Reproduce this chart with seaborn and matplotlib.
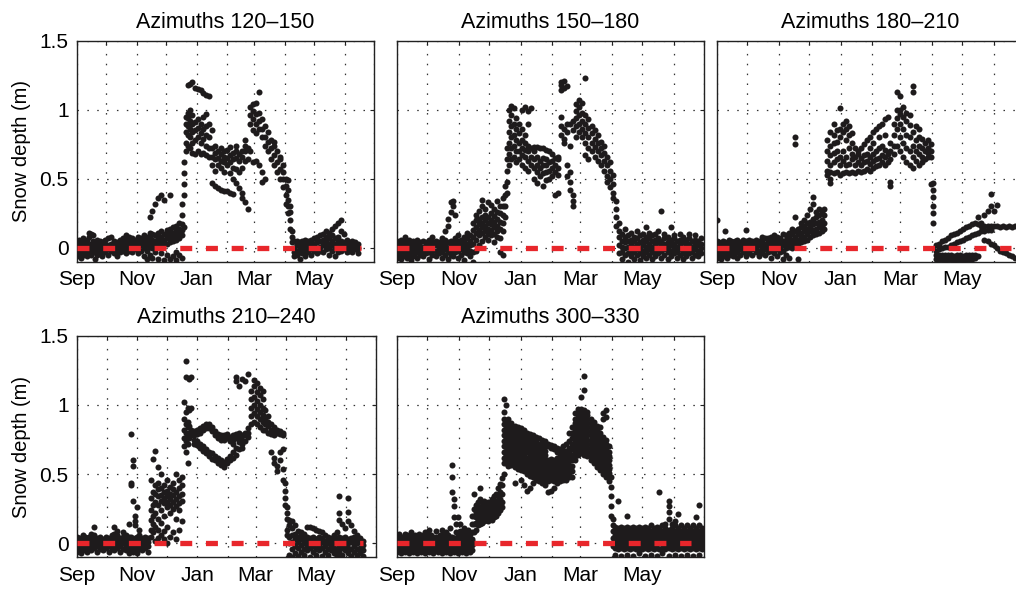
import numpy as np
import pandas as pd
import matplotlib
matplotlib.use("Agg")
import matplotlib.pyplot as plt
import seaborn as sns

# Снежный покров по секторам азимута, день от 1 сентября -> глубина (м)
TITLES = ["Azimuths 120–150", "Azimuths 150–180", "Azimuths 180–210",
          "Azimuths 210–240", "Azimuths 300–330"]

MONTH_DAYS = [0, 30, 61, 91, 122, 153, 181, 212, 242, 273, 303]
MONTH_LABELS = ["Sep", "", "Nov", "", "Jan", "", "Mar", "", "May", "", ""]
DEPTH_TICKS = [0, 0.5, 1, 1.5]
DEPTH_LABELS = ["0", "0.5", "1", "1.5"]
ZERO_LINE_DAYS = [0, 290]
X_END = [291, 302.6, 302.6, 294, 302.6]

p1_columns = [
    (0, [-0.06, -0.03, 0.0, 0.02, 0.05]), (2, [-0.04, -0.01, 0.01, 0.04, 0.06]),
    (4, [-0.07, -0.02, 0.0, 0.03]), (6, [-0.05, -0.02, 0.01, 0.04, 0.07]),
    (8, [-0.03, 0.0, 0.02, 0.05]), (10, [-0.06, -0.02, 0.01, 0.03, 0.06]),
    (12, [-0.04, -0.01, 0.02, 0.08, 0.11]), (14, [-0.05, -0.02, 0.0, 0.03, 0.1]),
    (16, [-0.03, 0.0, 0.02, 0.05, 0.09]), (18, [-0.08, -0.03, 0.01, 0.04]),
    (20, [-0.05, -0.01, 0.02, 0.06]), (23, [-0.04, -0.01, 0.03, 0.05]),
    (26, [-0.06, -0.02, 0.0, 0.04]), (29, [-0.03, 0.01, 0.03, 0.06]),
    (32, [-0.05, -0.01, 0.02, 0.07]), (35, [-0.02, 0.0, 0.03, 0.08]),
    (38, [-0.04, 0.0, 0.02, 0.05]), (41, [-0.06, -0.02, 0.01, 0.04]),
    (44, [-0.03, 0.0, 0.03, 0.06]), (47, [-0.02, 0.01, 0.04, 0.07]),
    (50, [-0.04, 0.0, 0.03, 0.06, 0.09]), (53, [-0.02, 0.01, 0.04, 0.08]),
    (56, [-0.03, 0.02, 0.05, 0.07]), (59, [-0.01, 0.02, 0.04, 0.06]),
    (62, [-0.04, 0.0, 0.03, 0.05, 0.08]), (65, [-0.02, 0.02, 0.04, 0.07]),
    (68, [-0.06, 0.0, 0.03, 0.06, 0.09]), (71, [-0.08, -0.02, 0.02, 0.05, 0.08]),
    (74, [-0.05, 0.01, 0.04, 0.08, 0.11, 0.22]), (77, [-0.07, 0.0, 0.03, 0.06, 0.1, 0.27]),
    (80, [-0.03, 0.02, 0.05, 0.09, 0.32]), (83, [-0.08, 0.01, 0.04, 0.07, 0.11, 0.36]),
    (86, [-0.04, 0.02, 0.05, 0.08, 0.12, 0.38]), (89, [-0.09, 0.03, 0.06, 0.1, 0.35]),
    (92, [-0.05, 0.03, 0.07, 0.1, 0.13]), (95, [-0.08, 0.04, 0.07, 0.11, 0.14, 0.38]),
    (98, [-0.06, 0.05, 0.08, 0.11, 0.15]), (101, [-0.09, -0.03, 0.06, 0.09, 0.13, 0.16]),
    (104, [-0.05, 0.07, 0.1, 0.14, 0.18]), (107, [-0.07, 0.09, 0.13, 0.17, 0.24, 0.32]),
    (109, [0.15, 0.38, 0.46, 0.54, 0.62]), (111, [0.7, 0.76, 0.84, 0.9, 0.95]),
    (113, [0.74, 0.82, 0.88, 0.94, 0.98, 1.18]), (115, [0.72, 0.8, 0.86, 0.92, 1.0, 1.19]),
    (117, [0.69, 0.76, 0.84, 0.9, 0.96, 1.2]), (120, [0.68, 0.78, 0.85, 0.91, 1.16]),
    (123, [0.7, 0.8, 0.87, 0.93, 1.15]), (126, [0.68, 0.76, 0.83, 0.9, 1.14]),
    (129, [0.69, 0.79, 0.86, 0.95, 1.12]), (132, [0.67, 0.74, 0.82, 0.88, 0.97, 1.11]),
    (135, [0.66, 0.72, 0.8, 0.9, 1.1]), (138, [0.47, 0.6, 0.66, 0.72, 0.85]),
    (141, [0.45, 0.56, 0.64, 0.69, 0.74]), (144, [0.43, 0.6, 0.65, 0.7]),
    (147, [0.42, 0.58, 0.63, 0.68, 0.72]), (150, [0.41, 0.55, 0.62, 0.66, 0.7]),
    (153, [0.41, 0.6, 0.65, 0.71]), (156, [0.4, 0.54, 0.62, 0.67, 0.73]),
    (159, [0.39, 0.5, 0.58, 0.64, 0.69]), (162, [0.47, 0.57, 0.65, 0.7, 0.74]),
    (165, [0.43, 0.55, 0.63, 0.68]), (168, [0.4, 0.36, 0.58, 0.66, 0.7]),
    (171, [0.33, 0.63, 0.7, 0.74, 0.78]), (174, [0.28, 0.64, 0.72]),
    (177, [0.9, 0.96, 1.02, 0.7]), (180, [0.85, 0.93, 0.99, 1.04, 0.62]),
    (183, [0.83, 0.9, 0.97, 1.05, 0.63]), (186, [0.86, 0.92, 0.98, 1.13, 0.6]),
    (189, [0.8, 0.86, 0.93, 0.55, 0.48]), (192, [0.74, 0.8, 0.88, 0.5]),
    (195, [0.7, 0.77, 0.84]), (198, [0.64, 0.72, 0.78]),
    (201, [0.6, 0.67, 0.74, 0.77]), (204, [0.55, 0.62, 0.7]),
    (207, [0.5, 0.57, 0.64, 0.66]), (210, [0.44, 0.5, 0.55, 0.6]),
    (213, [0.32, 0.38, 0.45, 0.5]), (215, [0.25, 0.3, 0.35, 0.42, 0.49]),
    (217, [0.14, 0.2, 0.26, 0.3]), (219, [0.08, 0.12, 0.04]),
    (221, [-0.03, 0.0, 0.05, -0.06]), (224, [-0.05, -0.02, 0.02, 0.05]),
    (227, [-0.08, -0.03, 0.0, 0.04]), (230, [-0.04, -0.01, 0.02, 0.05]),
    (233, [-0.06, -0.02, 0.01, 0.03, 0.06]), (236, [-0.03, 0.0, 0.03, 0.05]),
    (239, [-0.05, -0.01, 0.02, 0.06]), (242, [-0.02, 0.01, 0.03, 0.07]),
    (245, [-0.04, 0.0, 0.04, 0.08]), (248, [-0.02, 0.01, 0.05, 0.09]),
    (251, [-0.03, 0.02, 0.06, 0.1]), (254, [-0.01, 0.02, 0.05, 0.08, 0.12]),
    (257, [-0.05, 0.0, 0.03, 0.07, 0.11]), (260, [-0.02, 0.02, 0.05, 0.09, 0.14]),
    (263, [-0.06, 0.0, 0.03, 0.07, 0.16]), (266, [-0.03, 0.01, 0.04, 0.08, 0.18]),
    (269, [-0.02, 0.02, 0.05, 0.12, 0.2]), (272, [-0.01, 0.02, 0.04, 0.1]),
    (275, [-0.03, 0.0, 0.03, 0.06]), (278, [-0.02, 0.01, 0.04]),
    (281, [-0.03, 0.0, 0.02, 0.05]), (284, [-0.01, 0.02, 0.04]),
    (287, [-0.04, 0.0, 0.03]),
]

p2_columns = [
    (0, [-0.07, -0.04, -0.01, 0.02, 0.05]), (2, [-0.05, -0.02, 0.01, 0.04]),
    (4, [-0.08, -0.03, 0.0, 0.03, 0.06]), (6, [-0.06, -0.02, 0.01, 0.04]),
    (8, [-0.04, -0.01, 0.02, 0.05, 0.08]), (10, [-0.07, -0.03, 0.0, 0.03]),
    (12, [-0.05, -0.02, 0.01, 0.04, 0.06]), (14, [-0.09, -0.04, 0.0, 0.03]),
    (16, [-0.06, -0.02, 0.02, 0.05]), (18, [-0.04, -0.01, 0.02, 0.04]),
    (20, [-0.07, -0.03, 0.0, 0.03, 0.06]), (23, [-0.05, -0.02, 0.01, 0.04]),
    (26, [-0.06, -0.03, 0.01, 0.05]), (29, [-0.04, -0.01, 0.02, 0.04]),
    (32, [-0.08, -0.03, 0.0, 0.03, 0.06]), (35, [-0.05, -0.02, 0.01, 0.04, 0.08]),
    (38, [-0.06, -0.02, 0.02, 0.05]), (41, [-0.04, -0.01, 0.02, 0.04]),
    (44, [-0.07, -0.03, 0.01, 0.04, 0.07]), (47, [-0.05, -0.01, 0.02, 0.06, 0.12]),
    (50, [-0.08, -0.03, 0.0, 0.04, 0.16, 0.21]), (53, [-0.05, -0.02, 0.02, 0.05, 0.26, 0.33]),
    (55, [-0.06, 0.0, 0.03, 0.3, 0.34]), (57, [-0.03, 0.01, 0.04, 0.07, 0.24]),
    (60, [-0.07, -0.02, 0.02, 0.05, 0.09]), (63, [-0.05, -0.01, 0.03, 0.06]),
    (66, [-0.09, -0.03, 0.01, 0.04, 0.08]), (69, [-0.04, 0.0, 0.03, 0.07, 0.11]),
    (72, [-0.06, -0.02, 0.02, 0.05, 0.09]), (75, [-0.1, -0.03, 0.03, 0.08, 0.13, 0.18]),
    (78, [-0.02, 0.06, 0.11, 0.15, 0.2, 0.24]), (81, [0.02, 0.09, 0.13, 0.17, 0.21, 0.27]),
    (84, [0.05, 0.11, 0.15, 0.18, 0.22, 0.3, 0.35]), (87, [0.08, 0.12, 0.16, 0.2, 0.24, 0.28]),
    (90, [0.06, 0.1, 0.14, 0.18, 0.22, 0.33]), (93, [0.09, 0.13, 0.17, 0.2, 0.25, 0.31]),
    (96, [0.04, 0.1, 0.15, 0.19, 0.23, 0.28]), (99, [0.08, 0.12, 0.16, 0.21, 0.26, 0.34]),
    (102, [-0.03, 0.07, 0.14, 0.19, 0.25, 0.3]), (105, [-0.05, 0.12, 0.18, 0.24, 0.3, 0.36]),
    (107, [0.22, 0.3, 0.38, 0.45]), (109, [0.4, 0.48, 0.56, 0.64, 0.72]),
    (111, [0.6, 0.68, 0.76, 0.84, 0.92, 1.0]), (113, [0.64, 0.72, 0.8, 0.88, 0.96, 1.03]),
    (115, [0.66, 0.74, 0.82, 0.9, 1.01]), (117, [0.62, 0.7, 0.78, 0.86, 0.94]),
    (120, [0.64, 0.7, 0.76, 0.83, 0.9]), (123, [0.6, 0.67, 0.72, 0.78, 0.86, 1.0]),
    (126, [0.58, 0.66, 0.71, 0.76, 0.82, 1.02]), (129, [0.56, 0.63, 0.7, 0.74, 0.99, 0.9]),
    (132, [0.6, 0.66, 0.72, 1.01]), (135, [0.5, 0.58, 0.64, 0.7, 0.73]),
    (138, [0.47, 0.55, 0.6, 0.66, 0.73]), (141, [0.52, 0.58, 0.63, 0.72]),
    (144, [0.45, 0.54, 0.6, 0.65, 0.72]), (147, [0.49, 0.55, 0.6, 0.64, 0.71]),
    (150, [0.5, 0.56, 0.62, 0.7]), (153, [0.52, 0.58, 0.63, 0.68]),
    (156, [0.38, 0.55, 0.6, 0.65]), (159, [0.4, 0.53, 0.58, 0.64, 0.66]),
    (162, [0.82, 0.88, 0.95, 1.14, 1.18, 1.2]), (165, [0.79, 0.86, 1.16, 1.21, 0.76]),
    (168, [0.84, 0.9, 1.17, 0.6, 0.52]), (171, [0.55, 0.48, 0.42, 0.9, 0.74]),
    (174, [0.3, 0.34, 0.38, 0.85, 0.92]), (177, [0.88, 0.94, 0.99, 1.04, 0.8]),
    (180, [0.84, 0.9, 0.96, 1.02, 1.07]), (183, [0.8, 0.86, 0.92, 0.98, 1.05]),
    (186, [0.76, 0.83, 0.9, 0.96, 1.23, 0.67]), (189, [0.72, 0.8, 0.87, 0.93, 0.64]),
    (192, [0.7, 0.76, 0.83, 0.88]), (195, [0.66, 0.73, 0.79, 0.85]),
    (198, [0.63, 0.7, 0.76, 0.82]), (201, [0.6, 0.67, 0.72, 0.77]),
    (204, [0.56, 0.63, 0.69, 0.74]), (207, [0.52, 0.6, 0.66, 0.48]),
    (210, [0.5, 0.56, 0.62, 0.44]), (213, [0.4, 0.46, 0.53, 0.36]),
    (216, [0.28, 0.34, 0.22, 0.16]), (219, [0.12, 0.18, 0.08, 0.02, -0.04]),
    (222, [-0.08, -0.03, 0.01, 0.05, 0.1]), (225, [-0.05, 0.0, 0.04, 0.08, 0.14]),
    (228, [-0.1, -0.04, 0.01, 0.05, 0.09]), (231, [-0.06, -0.02, 0.02, 0.06, 0.11]),
    (234, [-0.08, -0.03, 0.01, 0.05, 0.08]), (237, [-0.05, -0.01, 0.03, 0.07, 0.12]),
    (240, [-0.09, -0.04, 0.0, 0.04, 0.09]), (243, [-0.06, -0.02, 0.02, 0.06, 0.1]),
    (246, [-0.07, -0.03, 0.01, 0.05, 0.08, 0.15]), (249, [-0.05, -0.01, 0.03, 0.07, 0.11]),
    (252, [-0.08, -0.03, 0.01, 0.05, 0.09]), (255, [-0.06, -0.02, 0.02, 0.06, 0.1]),
    (258, [-0.04, 0.0, 0.04, 0.07, 0.12]), (261, [-0.07, -0.02, 0.02, 0.05, 0.27]),
    (264, [-0.05, -0.01, 0.03, 0.07, 0.1]), (267, [-0.08, -0.03, 0.01, 0.04, 0.08]),
    (270, [-0.06, -0.02, 0.02, 0.06, 0.15]), (273, [-0.04, 0.0, 0.03, 0.07, 0.09]),
    (276, [-0.07, -0.03, 0.01, 0.05]), (279, [-0.05, -0.01, 0.03, 0.06, 0.1]),
    (282, [-0.08, -0.04, 0.0, 0.04, 0.08]), (285, [-0.06, -0.02, 0.02, 0.06]),
    (288, [-0.04, 0.0, 0.03, 0.07, 0.1]), (291, [-0.07, -0.03, 0.01, 0.05]),
    (294, [-0.05, -0.01, 0.02, 0.06, 0.09]), (297, [-0.06, -0.02, 0.02, 0.05]),
    (300, [-0.04, 0.0, 0.03, 0.07]),
]

p3_columns = [
    (0, [-0.07, -0.04, -0.01, 0.02, 0.05, 0.2]), (2, [-0.05, -0.02, 0.01, 0.04]),
    (4, [-0.08, -0.03, 0.0, 0.03]), (6, [-0.06, -0.02, 0.01, 0.05]),
    (8, [-0.04, -0.01, 0.02, 0.04, 0.12]), (10, [-0.07, -0.03, 0.0, 0.03]),
    (12, [-0.05, -0.02, 0.01, 0.04, 0.06]), (14, [-0.03, 0.0, 0.03, 0.05]),
    (16, [-0.06, -0.02, 0.01, 0.04]), (18, [-0.04, -0.01, 0.02, 0.05]),
    (20, [-0.07, -0.03, 0.0, 0.03, 0.06]), (23, [-0.05, -0.01, 0.02, 0.04]),
    (26, [-0.03, 0.0, 0.03, 0.06]), (29, [-0.06, -0.02, 0.02, 0.05, 0.13]),
    (32, [-0.04, 0.0, 0.03, 0.06]), (35, [-0.05, -0.01, 0.02, 0.05]),
    (38, [-0.03, 0.01, 0.03, 0.06]), (41, [-0.06, -0.02, 0.02, 0.05]),
    (44, [-0.04, 0.0, 0.03, 0.06, 0.08]), (47, [-0.05, -0.01, 0.03, 0.07]),
    (50, [-0.03, 0.01, 0.04, 0.07]), (53, [-0.07, -0.02, 0.02, 0.05, 0.08]),
    (56, [-0.04, 0.0, 0.03, 0.06, 0.09]), (59, [-0.06, -0.01, 0.02, 0.05, 0.08]),
    (62, [-0.03, 0.01, 0.04, 0.07]), (65, [-0.08, -0.02, 0.02, 0.05, 0.1]),
    (68, [-0.05, 0.0, 0.03, 0.06, 0.09]), (71, [-0.07, 0.01, 0.04, 0.07, 0.11]),
    (74, [0.0, 0.03, 0.06, 0.1, 0.14]), (77, [0.02, 0.05, 0.08, 0.12, 0.22, 0.8, 0.75]),
    (80, [-0.08, 0.03, 0.06, 0.1, 0.14]), (83, [0.04, 0.07, 0.11, 0.15, 0.18]),
    (86, [0.05, 0.08, 0.12, 0.16, 0.2]), (89, [0.06, 0.1, 0.14, 0.18, 0.24]),
    (92, [0.08, 0.12, 0.15, 0.19, 0.28]), (95, [0.09, 0.13, 0.17, 0.21, 0.32, 0.37]),
    (98, [0.1, 0.14, 0.18, 0.22, 0.26]), (101, [0.11, 0.15, 0.19, 0.24, 0.28]),
    (104, [0.12, 0.16, 0.2, 0.25]), (106, [0.14, 0.18, 0.24, 0.28]),
    (109, [0.53, 0.56, 0.63, 0.7, 0.78]), (112, [0.47, 0.5, 0.55, 0.6, 0.67, 0.74, 0.84]),
    (115, [0.54, 0.62, 0.69, 0.76, 0.82, 0.9]), (118, [0.55, 0.64, 0.7, 0.77, 0.85]),
    (121, [0.53, 0.6, 0.66, 0.8, 0.86, 1.01]), (124, [0.54, 0.63, 0.7, 0.84, 0.9]),
    (127, [0.55, 0.6, 0.66, 0.78, 0.86, 0.92]), (130, [0.54, 0.61, 0.72, 0.82, 0.88]),
    (133, [0.55, 0.64, 0.68, 0.76, 0.83]), (136, [0.54, 0.6, 0.66, 0.72]),
    (139, [0.56, 0.62, 0.68, 0.7]), (142, [0.55, 0.6, 0.65, 0.72]),
    (145, [0.56, 0.62, 0.67, 0.75]), (148, [0.57, 0.63, 0.68, 0.78]),
    (151, [0.56, 0.61, 0.66, 0.72, 0.8]), (154, [0.58, 0.63, 0.68, 0.76, 0.84]),
    (157, [0.59, 0.64, 0.7, 0.86]), (160, [0.6, 0.65, 0.72, 0.8, 0.88]),
    (163, [0.62, 0.67, 0.74, 0.9]), (166, [0.6, 0.66, 0.71, 0.82, 0.93]),
    (169, [0.62, 0.68, 0.95]), (171, [0.45, 0.48, 0.64, 0.7, 0.76]),
    (175, [0.68, 0.74, 0.82, 0.9]), (178, [0.74, 0.86, 0.94, 1.0, 1.13]),
    (181, [0.7, 0.8, 0.9, 0.97, 1.0, 1.1]), (184, [0.66, 0.76, 0.86, 0.95, 1.02]),
    (187, [0.62, 0.72, 0.82, 0.92, 0.98]), (190, [0.6, 0.7, 0.8, 0.89, 0.96]),
    (193, [0.58, 0.66, 0.74, 0.84, 1.17, 1.13]), (196, [0.63, 0.7, 0.78, 0.88]),
    (199, [0.6, 0.68, 0.74, 0.8, 0.86]), (202, [0.62, 0.66, 0.72, 0.79]),
    (205, [0.64, 0.7, 0.76]), (208, [0.66, 0.72, 0.78, 0.69]),
    (211, [0.66, 0.7, 0.75, 0.46]), (213, [0.47, 0.42, 0.37, 0.3, 0.25, 0.18]),
    (216, [-0.08, -0.05, -0.02, 0.02]), (219, [-0.08, -0.05, -0.01, 0.03]),
    (222, [-0.08, -0.05, 0.0, 0.05]), (225, [-0.09, -0.05, 0.01, 0.06]),
    (228, [-0.08, -0.05, 0.01, 0.07]), (231, [-0.08, -0.05, 0.02, 0.09]),
    (234, [-0.09, -0.06, 0.03, 0.1]), (237, [-0.08, -0.05, 0.04, 0.11]),
    (240, [-0.08, -0.05, 0.05, 0.12]), (243, [-0.09, -0.06, 0.06, 0.14]),
    (246, [-0.08, -0.05, 0.07, 0.15]), (249, [-0.08, -0.05, 0.08, 0.16]),
    (252, [-0.08, -0.05, 0.09, 0.17]), (255, [-0.07, -0.05, 0.1, 0.18]),
    (258, [-0.06, 0.11, 0.17, 0.22]), (261, [0.12, 0.18, 0.16]),
    (264, [0.12, 0.16, 0.06, 0.24]), (267, [0.13, 0.16, 0.05, 0.27]),
    (270, [0.13, 0.16, 0.03, 0.39, 0.3]), (273, [0.16, 0.02, 0.27]),
    (276, [0.16, 0.0, 0.31]), (279, [0.15, -0.02]), (282, [0.16, -0.03]),
    (285, [0.15, -0.04]), (288, [0.16, -0.05]), (291, [0.15, -0.06]),
    (294, [0.16, -0.07]), (297, [0.15, -0.08]), (300, [0.16, -0.09]),
]

p4_columns = [
    (0, [-0.06, -0.03, 0.0, 0.03, 0.05]), (2, [-0.04, -0.01, 0.02, 0.04]),
    (4, [-0.07, -0.02, 0.01, 0.04]), (6, [-0.05, -0.02, 0.01, 0.03, 0.06]),
    (8, [-0.03, 0.0, 0.02, 0.05]), (10, [-0.06, -0.02, 0.01, 0.04]),
    (12, [-0.04, -0.01, 0.02, 0.05]), (14, [-0.05, -0.02, 0.01, 0.04, 0.07]),
    (17, [-0.03, 0.0, 0.03, 0.06, 0.12]), (20, [-0.06, -0.02, 0.01, 0.04]),
    (23, [-0.04, -0.01, 0.02, 0.05]), (26, [-0.05, -0.02, 0.01, 0.03]),
    (29, [-0.03, 0.0, 0.02, 0.05]), (32, [-0.06, -0.02, 0.01, 0.04]),
    (35, [-0.04, -0.01, 0.02, 0.06]), (38, [-0.05, -0.01, 0.03, 0.07, 0.12]),
    (41, [-0.03, 0.0, 0.03, 0.06, 0.09]), (44, [-0.06, -0.02, 0.01, 0.04]),
    (47, [-0.04, 0.0, 0.02, 0.05, 0.08]), (50, [-0.05, -0.02, 0.01, 0.04, 0.06]),
    (53, [-0.07, -0.03, 0.0, 0.03, 0.05, 0.14]), (55, [-0.04, 0.02, 0.05, 0.42, 0.44, 0.79]),
    (57, [-0.06, -0.01, 0.03, 0.31, 0.56, 0.6]), (59, [-0.03, 0.01, 0.04, 0.13, 0.16, 0.2]),
    (61, [-0.07, -0.02, 0.02, 0.05, 0.26]), (63, [-0.04, 0.0, 0.03, 0.06, 0.1]),
    (66, [-0.05, -0.01, 0.02, 0.04]), (69, [-0.03, 0.0, 0.03, 0.05]),
    (72, [-0.06, -0.02, 0.01, 0.04]), (75, [0.05, 0.1, 0.17, 0.24, 0.33, 0.46]),
    (77, [0.08, 0.14, 0.2, 0.28, 0.37, 0.61]), (79, [0.02, 0.12, 0.22, 0.3, 0.36, 0.42, 0.67]),
    (82, [0.04, 0.1, 0.18, 0.28, 0.34, 0.39, 0.44, 0.55]),
    (85, [0.06, 0.15, 0.24, 0.31, 0.35, 0.4, 0.5]),
    (88, [0.03, 0.09, 0.2, 0.29, 0.33, 0.37, 0.42]),
    (91, [0.0, 0.12, 0.26, 0.3, 0.34, 0.38, 0.46]),
    (94, [0.05, 0.22, 0.28, 0.32, 0.36, 0.41]), (97, [0.08, 0.25, 0.3, 0.35, 0.39, 0.44]),
    (100, [0.03, 0.18, 0.27, 0.32, 0.37, 0.5]), (103, [0.1, 0.24, 0.29, 0.34, 0.4, 0.46]),
    (106, [0.16, 0.31, 0.36, 0.42, 0.48]), (108, [0.7, 0.76, 0.82, 0.9, 1.02]),
    (110, [0.66, 0.74, 0.8, 0.86, 0.95, 1.2, 1.32]), (112, [0.72, 0.78, 0.84, 0.88, 0.98, 0.58]),
    (114, [0.76, 0.8, 0.85, 1.19, 0.96]), (116, [0.78, 0.82, 0.98, 1.2]),
    (119, [0.81, 0.78, 0.75, 0.72]), (122, [0.82, 0.79, 0.74, 0.71]),
    (125, [0.83, 0.8, 0.72, 0.69]), (128, [0.85, 0.82, 0.7, 0.67]),
    (131, [0.86, 0.83, 0.68, 0.65]), (134, [0.86, 0.83, 0.66, 0.63]),
    (137, [0.84, 0.81, 0.65, 0.61]), (140, [0.81, 0.78, 0.63, 0.6]),
    (143, [0.79, 0.76, 0.62, 0.58]), (146, [0.78, 0.75, 0.6, 0.57]),
    (149, [0.78, 0.75, 0.59, 0.55]), (152, [0.79, 0.76, 0.61, 0.58]),
    (155, [0.77, 0.74, 0.6, 0.63]), (158, [0.78, 0.75, 0.62, 0.66, 0.72]),
    (161, [0.79, 0.76, 0.64, 0.69, 1.2, 1.17]), (164, [0.8, 0.77, 0.68, 0.73, 1.14]),
    (167, [0.78, 0.75, 0.69, 0.72, 1.19]), (170, [0.8, 0.78, 0.74, 1.17]),
    (173, [0.83, 0.8, 0.77, 1.22]), (176, [0.86, 0.92, 0.98, 1.04, 1.1]),
    (179, [0.88, 0.94, 1.0, 1.06, 1.14, 1.18]), (182, [0.86, 0.92, 0.97, 1.03, 1.09, 1.16]),
    (185, [0.84, 0.9, 0.95, 1.0, 1.07, 1.12]), (188, [0.82, 0.88, 0.93, 0.98, 1.04, 1.1]),
    (191, [0.82, 0.86, 0.9, 0.96]), (194, [0.8, 0.85, 0.88, 0.92]),
    (197, [0.79, 0.82, 0.86, 0.66]), (200, [0.78, 0.82, 0.84, 0.62, 0.58]),
    (203, [0.8, 0.82, 0.81, 0.56, 0.52]), (206, [0.79, 0.81, 0.66, 0.6]),
    (209, [0.78, 0.8, 0.68, 0.54, 0.46]), (211, [0.44, 0.38, 0.33, 0.28]),
    (213, [0.26, 0.22, 0.18, 0.1, 0.06]), (215, [-0.08, 0.0, 0.05, 0.13, 0.17]),
    (218, [-0.1, -0.04, 0.01, 0.06, 0.11, 0.16]), (221, [-0.07, -0.02, 0.03, 0.07, 0.13]),
    (224, [-0.09, -0.03, 0.01, 0.05, 0.09]), (227, [-0.06, -0.01, 0.03, 0.06, 0.08]),
    (230, [-0.08, -0.04, 0.0, 0.04, 0.07]), (233, [-0.05, -0.01, 0.02, 0.05, 0.12]),
    (236, [-0.1, -0.03, 0.01, 0.04, 0.12]), (239, [-0.06, -0.02, 0.02, 0.05, 0.11]),
    (242, [-0.08, -0.04, 0.0, 0.03, 0.1]), (245, [-0.05, -0.01, 0.02, 0.05, 0.09]),
    (248, [-0.09, -0.03, 0.01, 0.04, 0.08]), (251, [-0.06, -0.02, 0.02, 0.06]),
    (254, [-0.08, -0.04, 0.0, 0.03, 0.05]), (257, [-0.05, -0.01, 0.02, 0.04]),
    (260, [-0.07, -0.03, 0.0, 0.03, 0.06]), (263, [-0.09, -0.04, 0.01, 0.04, 0.08]),
    (266, [-0.06, -0.02, 0.02, 0.05, 0.17, 0.22, 0.34]), (269, [-0.08, -0.03, 0.01, 0.04, 0.14]),
    (272, [-0.05, -0.01, 0.02, 0.05, 0.11]), (275, [-0.07, -0.03, 0.0, 0.03, 0.16, 0.23, 0.33]),
    (278, [-0.09, -0.04, 0.01, 0.04, 0.13]), (281, [-0.06, -0.02, 0.02, 0.05, 0.09]),
    (284, [-0.08, -0.04, 0.0, 0.03, 0.06]), (287, [-0.07, -0.03, 0.01, 0.04]),
    (290, [-0.09, -0.05, -0.01, 0.02]),
]

p5_columns = [
    (0, [-0.06, -0.03, 0.0, 0.03, 0.06]), (2, [-0.05, -0.02, 0.01, 0.04, 0.07]),
    (4, [-0.07, -0.03, 0.0, 0.03, 0.05]), (6, [-0.04, -0.01, 0.02, 0.05]),
    (8, [-0.06, -0.02, 0.01, 0.04, 0.07]), (10, [-0.05, -0.02, 0.01, 0.03, 0.06]),
    (12, [-0.07, -0.03, 0.0, 0.03, 0.05]), (14, [-0.04, -0.01, 0.02, 0.05, 0.08]),
    (16, [-0.06, -0.02, 0.01, 0.04]), (18, [-0.05, -0.02, 0.01, 0.03, 0.06]),
    (20, [-0.07, -0.03, 0.0, 0.03, 0.05]), (22, [-0.04, -0.01, 0.02, 0.05, 0.07]),
    (24, [-0.06, -0.02, 0.01, 0.04]), (26, [-0.05, -0.02, 0.01, 0.03, 0.06]),
    (28, [-0.07, -0.03, 0.0, 0.03, 0.08]), (30, [-0.04, -0.01, 0.02, 0.05, 0.07]),
    (32, [-0.06, -0.02, 0.01, 0.04, 0.1]), (34, [-0.05, -0.02, 0.01, 0.03, 0.06]),
    (36, [-0.07, -0.03, 0.0, 0.03, 0.05]), (38, [-0.04, -0.01, 0.02, 0.05, 0.09]),
    (40, [-0.06, -0.02, 0.01, 0.04]), (42, [-0.05, -0.02, 0.01, 0.03, 0.06]),
    (44, [-0.07, -0.03, 0.0, 0.03, 0.05, 0.1]), (46, [-0.04, -0.01, 0.02, 0.05, 0.07]),
    (48, [-0.06, -0.02, 0.01, 0.04, 0.08]), (50, [-0.05, -0.02, 0.01, 0.03, 0.06]),
    (52, [-0.07, -0.03, 0.0, 0.03, 0.05, 0.11]), (54, [-0.04, -0.01, 0.02, 0.05, 0.37, 0.48, 0.57]),
    (56, [-0.06, -0.02, 0.01, 0.04, 0.19, 0.27, 0.32]), (58, [-0.05, -0.02, 0.01, 0.03, 0.08, 0.14]),
    (60, [-0.07, -0.03, 0.0, 0.03, 0.06, 0.19]), (62, [-0.04, -0.01, 0.02, 0.05, 0.09, 0.14]),
    (64, [-0.06, -0.02, 0.01, 0.04, 0.07]), (66, [-0.05, -0.02, 0.01, 0.04, 0.08, 0.11]),
    (68, [-0.07, -0.03, 0.0, 0.03, 0.06]), (70, [-0.04, -0.01, 0.02, 0.05, 0.1]),
    (72, [-0.06, -0.02, 0.01, 0.04, 0.07]), (74, [-0.05, -0.01, 0.03, 0.08, 0.14, 0.2]),
    (76, [0.0, 0.08, 0.14, 0.2, 0.25, 0.36]), (78, [0.1, 0.15, 0.19, 0.23, 0.28]),
    (80, [0.13, 0.17, 0.21, 0.25, 0.3]), (82, [0.14, 0.18, 0.22, 0.26, 0.32, 0.4]),
    (84, [0.15, 0.19, 0.23, 0.27, 0.3]), (86, [0.16, 0.2, 0.24, 0.27, 0.31]),
    (88, [0.17, 0.21, 0.25, 0.28]), (90, [0.16, 0.2, 0.24, 0.27, 0.3]),
    (92, [0.18, 0.22, 0.25, 0.29]), (94, [0.17, 0.21, 0.25, 0.28, 0.32]),
    (96, [0.19, 0.23, 0.26, 0.3, 0.34]), (98, [0.2, 0.24, 0.28, 0.31, 0.36]),
    (100, [0.22, 0.26, 0.3, 0.34, 0.4]), (102, [0.24, 0.28, 0.32, 0.37, 0.43]),
    (104, [0.26, 0.3, 0.36, 0.42, 0.47]),
    (106, [0.5, 0.58, 0.62, 0.66, 0.7, 0.74, 0.78, 0.82, 0.86, 0.9, 0.95, 1.04]),
    (108, [0.58, 0.61, 0.64, 0.67, 0.7, 0.73, 0.76, 0.79, 0.82, 0.85, 0.88, 1.0]),
    (110, [0.56, 0.59, 0.62, 0.65, 0.68, 0.71, 0.74, 0.77, 0.8, 0.83, 0.86, 0.9]),
    (113, [0.57, 0.6, 0.63, 0.66, 0.69, 0.72, 0.75, 0.78, 0.81, 0.84, 0.87]),
    (116, [0.44, 0.55, 0.58, 0.61, 0.64, 0.67, 0.7, 0.73, 0.76, 0.79, 0.82, 0.85]),
    (119, [0.54, 0.57, 0.6, 0.63, 0.66, 0.69, 0.72, 0.75, 0.78, 0.81, 0.84]),
    (122, [0.46, 0.53, 0.56, 0.59, 0.62, 0.65, 0.68, 0.71, 0.74, 0.77, 0.8, 0.83]),
    (125, [0.42, 0.52, 0.55, 0.58, 0.61, 0.64, 0.67, 0.7, 0.73, 0.76, 0.79, 0.82]),
    (128, [0.38, 0.5, 0.53, 0.56, 0.59, 0.62, 0.66, 0.69, 0.72, 0.75, 0.78, 0.8]),
    (131, [0.4, 0.49, 0.52, 0.55, 0.58, 0.61, 0.64, 0.67, 0.7, 0.73, 0.76, 0.79]),
    (134, [0.44, 0.48, 0.51, 0.54, 0.57, 0.6, 0.63, 0.66, 0.69, 0.72, 0.75, 0.78]),
    (137, [0.46, 0.49, 0.52, 0.55, 0.58, 0.61, 0.64, 0.67, 0.7, 0.73, 0.77]),
    (140, [0.45, 0.48, 0.51, 0.54, 0.57, 0.6, 0.63, 0.66, 0.69, 0.72, 0.76]),
    (143, [0.44, 0.47, 0.5, 0.53, 0.56, 0.59, 0.62, 0.65, 0.68, 0.71, 0.75]),
    (146, [0.42, 0.46, 0.49, 0.52, 0.55, 0.58, 0.61, 0.64, 0.67, 0.7, 0.74]),
    (149, [0.37, 0.45, 0.48, 0.51, 0.54, 0.57, 0.6, 0.7, 0.72]),
    (152, [0.38, 0.46, 0.49, 0.52, 0.55, 0.58, 0.61, 0.69, 0.71]),
    (155, [0.4, 0.45, 0.48, 0.51, 0.54, 0.57, 0.6, 0.68, 0.7]),
    (158, [0.44, 0.47, 0.5, 0.53, 0.56, 0.59, 0.62, 0.66, 0.69]),
    (161, [0.45, 0.48, 0.51, 0.54, 0.57, 0.6, 0.63, 0.66, 0.68]),
    (164, [0.46, 0.49, 0.52, 0.55, 0.58, 0.61, 0.64, 0.67, 0.7]),
    (167, [0.46, 0.49, 0.52, 0.55, 0.58, 0.61, 0.64, 0.67, 0.72]),
    (170, [0.48, 0.51, 0.54, 0.57, 0.6, 0.63, 0.66, 0.69, 0.74, 0.8]),
    (173, [0.48, 0.52, 0.56, 0.6, 0.64, 0.68, 0.72, 0.76, 0.8, 0.84]),
    (176, [0.6, 0.63, 0.66, 0.69, 0.72, 0.75, 0.78, 0.81, 0.84, 0.87, 0.9, 0.94]),
    (179, [0.64, 0.67, 0.7, 0.73, 0.76, 0.79, 0.82, 0.85, 0.88, 0.91, 0.94, 0.97]),
    (182, [0.65, 0.68, 0.71, 0.74, 0.77, 0.8, 0.83, 0.86, 0.89, 0.92, 0.95, 0.97, 1.06]),
    (185, [0.64, 0.67, 0.7, 0.73, 0.76, 0.79, 0.82, 0.85, 0.88, 0.91, 0.94, 0.96, 1.11, 1.21]),
    (188, [0.63, 0.66, 0.69, 0.72, 0.75, 0.78, 0.81, 0.84, 0.87, 0.9, 0.93, 0.95]),
    (191, [0.6, 0.63, 0.66, 0.69, 0.72, 0.75, 0.78, 0.81, 0.84, 0.87, 0.9]),
    (194, [0.58, 0.61, 0.64, 0.67, 0.7, 0.73, 0.76, 0.79, 0.82, 0.85, 0.88]),
    (197, [0.55, 0.58, 0.61, 0.64, 0.67, 0.7, 0.73, 0.76, 0.79, 0.82, 0.85]),
    (200, [0.53, 0.56, 0.59, 0.62, 0.65, 0.68, 0.71, 0.74, 0.77, 0.8, 0.84]),
    (203, [0.5, 0.53, 0.56, 0.59, 0.62, 0.65, 0.68, 0.71, 0.74, 0.77, 0.9, 0.94]),
    (206, [0.48, 0.51, 0.54, 0.57, 0.6, 0.63, 0.66, 0.69, 0.72, 0.75, 0.91, 0.96]),
    (209, [0.45, 0.48, 0.51, 0.54, 0.57, 0.6, 0.63, 0.66, 0.7]),
    (211, [0.2, 0.27, 0.34, 0.41, 0.48]),
    (213, [-0.02, 0.04, 0.09, 0.13, 0.18]),
    (215, [-0.08, -0.03, 0.0, 0.03, 0.06, 0.09, 0.12]),
    (218, [-0.04, -0.01, 0.02, 0.05, 0.08, 0.11, 0.31]),
    (221, [-0.09, -0.03, 0.0, 0.03, 0.06, 0.09, 0.12]),
    (224, [-0.04, -0.01, 0.02, 0.05, 0.08, 0.11]),
    (227, [-0.08, -0.03, 0.0, 0.03, 0.06, 0.09, 0.12, 0.2]),
    (230, [-0.04, -0.01, 0.02, 0.05, 0.08, 0.11]),
    (233, [-0.09, -0.03, 0.0, 0.03, 0.06, 0.09, 0.12]),
    (236, [-0.04, -0.01, 0.02, 0.05, 0.08, 0.11]),
    (239, [-0.07, -0.03, 0.0, 0.03, 0.06, 0.09, 0.12]),
    (242, [-0.04, -0.01, 0.02, 0.05, 0.08, 0.11]),
    (245, [-0.09, -0.03, 0.0, 0.03, 0.06, 0.09, 0.12]),
    (248, [-0.04, -0.01, 0.02, 0.05, 0.08, 0.11]),
    (251, [-0.08, -0.03, 0.0, 0.03, 0.06, 0.09, 0.13]),
    (254, [-0.04, -0.01, 0.02, 0.05, 0.08, 0.11]),
    (257, [-0.09, -0.03, 0.0, 0.03, 0.06, 0.09, 0.12]),
    (259, [-0.04, 0.02, 0.05, 0.08, 0.11, 0.37]),
    (262, [-0.07, -0.03, 0.0, 0.03, 0.06, 0.09, 0.13]),
    (265, [-0.04, -0.01, 0.02, 0.05, 0.08, 0.11, 0.14]),
    (268, [-0.09, -0.03, 0.0, 0.03, 0.06, 0.1, 0.18, 0.23, 0.27, 0.31]),
    (271, [-0.04, -0.01, 0.02, 0.05, 0.08, 0.11, 0.14]),
    (274, [-0.08, -0.03, 0.0, 0.03, 0.06, 0.09, 0.13, 0.16]),
    (277, [-0.04, -0.01, 0.02, 0.05, 0.08, 0.11, 0.21]),
    (280, [-0.09, -0.03, 0.0, 0.03, 0.06, 0.09, 0.13]),
    (283, [-0.04, -0.01, 0.02, 0.05, 0.08, 0.11]),
    (286, [-0.08, -0.03, 0.0, 0.03, 0.06, 0.09, 0.13]),
    (289, [-0.04, -0.01, 0.02, 0.05, 0.08, 0.11]),
    (292, [-0.09, -0.03, 0.0, 0.03, 0.06, 0.09, 0.13]),
    (295, [-0.04, -0.01, 0.02, 0.05, 0.08, 0.11, 0.19]),
    (298, [-0.08, -0.03, 0.0, 0.03, 0.06, 0.09, 0.13, 0.28]),
    (301, [-0.04, -0.01, 0.02, 0.05, 0.08, 0.11]),
]

ALL_COLUMNS = [p1_columns, p2_columns, p3_columns, p4_columns, p5_columns]

# Позиции панелей в пикселях: (лево, право, верх, низ)
W, H = 1016, 591
PANEL_PX = [(77, 374, 40.7, 261.7), (397, 704, 40.7, 261.7), (717, 1024, 40.7, 261.7),
            (77, 376, 335.7, 557.3), (397, 704, 335.7, 557.3)]

rows = []
for i, cols in enumerate(ALL_COLUMNS):
    for day, depths in cols:
        for d in depths:
            rows.append((i, day, d))
df = pd.DataFrame(rows, columns=["panel", "day", "depth"])

sns.set_theme(style="white")
plt.rcParams["font.family"] = ["Liberation Sans", "DejaVu Sans"]
plt.rcParams["lines.scale_dashes"] = False
plt.rcParams["text.color"] = "black"
plt.rcParams["axes.labelcolor"] = "black"

fig = plt.figure(figsize=(W / 100, H / 100), dpi=100)

for i, (l, r, t, b) in enumerate(PANEL_PX):
    ax = fig.add_axes([l / W, 1 - b / H, (r - l) / W, (b - t) / H])
    sub = df[df["panel"] == i]
    ax.set_axisbelow(True)
    ax.grid(True, linestyle=(0, (1.1, 6.0)), linewidth=0.9, color="#333333")
    sns.scatterplot(data=sub, x="day", y="depth", ax=ax, color="#1e1b1c",
                    s=19, linewidth=0, legend=False, zorder=3)
    ax.hlines(0, ZERO_LINE_DAYS[0], ZERO_LINE_DAYS[1], colors="#e8262b",
              linewidth=3.8, linestyles=(0, (8.6, 9.9)), zorder=4)
    ax.set_xlim(0, X_END[i])
    ax.set_ylim(-0.1, 1.5)
    ax.set_xticks(MONTH_DAYS)
    ax.set_xticklabels(MONTH_LABELS)
    ax.set_yticks(DEPTH_TICKS)
    if i in (0, 3):
        ax.set_yticklabels(DEPTH_LABELS)
        ax.set_ylabel("Snow depth (m)", fontsize=14.5, labelpad=6)
    else:
        ax.set_yticklabels([])
        ax.set_ylabel("")
    ax.set_xlabel("")
    ax.tick_params(axis="both", direction="in", length=3, width=0.8,
                   labelsize=15, colors="#222222", labelcolor="black",
                   top=True, right=True, pad=6)
    for sp in ax.spines.values():
        sp.set_color("#222222")
        sp.set_linewidth(1.0)
    ax.set_title(TITLES[i], fontsize=15.5, pad=9)

fig.savefig("out.png", dpi=100)
